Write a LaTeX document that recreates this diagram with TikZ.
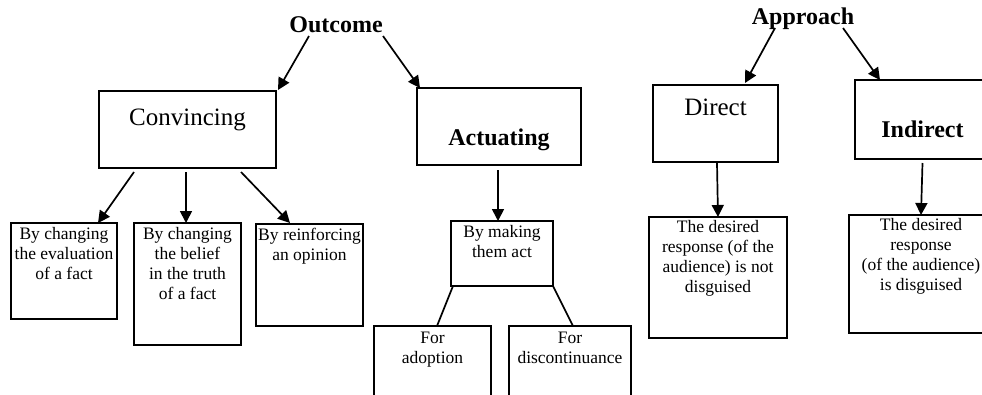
\documentclass[tikz,border=0pt]{standalone}
\usepackage{fontspec}
\setmainfont{Liberation Serif}
\usetikzlibrary{arrows.meta}
\newcommand{\bxt}[4]{\parbox[c][#2pt][t]{#1pt}{\centering\rule{0pt}{#3pt}#4\par}}
\begin{document}
\begin{tikzpicture}[x=1pt,y=-1pt,
  box/.style={draw, line width=1.7pt, inner sep=0pt, outer sep=0pt, anchor=north west,
    font=\fontsize{17.5}{20}\selectfont},
  lbl/.style={font=\bfseries\fontsize{24}{28}\selectfont, inner sep=1pt, anchor=base},
  arr/.style={line width=1.7pt, -{Triangle[length=12pt,width=12pt]}},
  ln/.style={line width=1.7pt}]
\useasboundingbox (0,0) rectangle (982,394);
\fill[white] (0,0) rectangle (982,394);
\clip (0,0) rectangle (982,394);
% top labels
\node[lbl] (out) at (336,32) {Outcome};
\node[lbl] (app) at (803,24) {Approach};
% boxes
\node[box] (conv) at (99,91) {\bxt{177}{77}{34}{\fontsize{25}{28}\selectfont Convincing}};
\node[box] (act) at (417,88) {\bxt{164}{77}{57}{\bfseries\fontsize{24}{28}\selectfont Actuating}};
\node[box] (b1) at (11,223) {\bxt{106}{96}{16}{By changing\\the evaluation\\of a fact}};
\node[box] (b2) at (134,223) {\bxt{107}{122}{16}{By changing\\the belief\\in the truth\\of a fact}};
\node[box] (b3) at (256,224) {\bxt{107}{102}{16}{By reinforcing\\an opinion}};
\node[box] (mk) at (451,221) {\bxt{102}{65}{16}{By making\\them act}};
\node[box] (ad) at (374,326) {\bxt{117}{100}{17}{For\\adoption}};
\node[box] (dc) at (509,326) {\bxt{122}{100}{17}{For\\discontinuance}};
\node[box] (dir) at (653,85) {\bxt{125}{77}{30}{\fontsize{25}{28}\selectfont Direct}};
\node[box] (ind) at (855,80) {\bxt{135}{79}{57}{\bfseries\fontsize{24}{28}\selectfont Indirect}};
\node[box] (dl) at (649,217) {\bxt{138}{121}{15}{The desired\\response (of the\\audience) is not\\disguised}};
\node[box] (il) at (849,215) {\bxt{144}{118}{15}{The desired\\response\\(of the audience)\\is disguised}};
% connectors
\draw[arr] ([shift={(-27,4)}]out.base) -- ([shift={(2,-1)}]conv.north east);
\draw[arr] ([shift={(47,4)}]out.base) -- ([shift={(3,0)}]act.north west);
\draw[arr] ([shift={(35,4)}]conv.south west) -- ([shift={(87,0)}]b1.north west);
\draw[arr] ([shift={(-1.5,4)}]conv.south) -- ([shift={(52,0)}]b2.north west);
\draw[arr] ([shift={(-35,4)}]conv.south east) -- ([shift={(34,-1)}]b3.north west);
\draw[arr] ([shift={(-1,5)}]act.south) -- ([shift={(47,0)}]mk.north west);
\draw[ln] ([shift={(2,0)}]mk.south west) -- ([shift={(63,0)}]ad.north west);
\draw[ln] (mk.south east) -- ([shift={(64,0)}]dc.north west);
\draw[arr] ([shift={(-28,4)}]app.base) -- ([shift={(92,-2)}]dir.north west);
\draw[arr] ([shift={(40,4)}]app.base) -- ([shift={(25,0)}]ind.north west);
\draw[arr] ([shift={(1.5,1)}]dir.south) -- (dl.north);
\draw[arr] ([shift={(0,4)}]ind.south) -- (il.north);
\end{tikzpicture}
\end{document}
